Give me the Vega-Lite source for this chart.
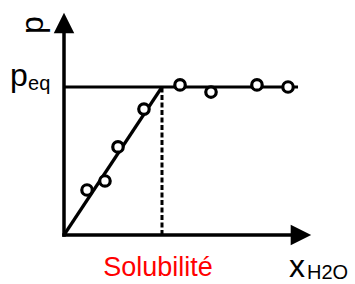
{
  "$schema": "https://vega.github.io/schema/vega-lite/v6.json",
  "width": 355,
  "height": 284,
  "padding": 0,
  "autosize": {"type": "fit", "contains": "padding"},
  "background": "white",
  "config": {"view": {"stroke": null}},
  "datasets": {
    "points": [
      {"x": 0.235, "y": 0.304},
      {"x": 0.418, "y": 0.365},
      {"x": 0.551, "y": 0.595},
      {"x": 0.816, "y": 0.851},
      {"x": 1.184, "y": 1.014},
      {"x": 1.5, "y": 0.966},
      {"x": 1.969, "y": 1.014},
      {"x": 2.286, "y": 1.0}
    ],
    "segments": [
      {"kind": "axis", "x": 0, "y": 0, "x2": 0, "y2": 1.4},
      {"kind": "axis", "x": 0, "y": 0, "x2": 2.36, "y2": 0},
      {"kind": "curve", "x": 0, "y": 1, "x2": 2.388, "y2": 1},
      {"kind": "curve", "x": 0, "y": 0, "x2": 1, "y2": 1},
      {"kind": "dashed", "x": 1, "y": 0, "x2": 1, "y2": 1}
    ],
    "arrows": [
      {"dir": "up", "x": 0, "y": 1.432},
      {"dir": "right", "x": 2.418, "y": 0}
    ],
    "labels": [
      {"kind": "ytitle", "text": "p", "x": -0.316, "y": 1.419},
      {"kind": "big", "text": "p", "x": -0.551, "y": 1.007},
      {"kind": "sub", "text": "eq", "x": -0.367, "y": 0.98},
      {"kind": "big", "text": "x", "x": 2.296, "y": -0.284},
      {"kind": "sub", "text": "H2O", "x": 2.48, "y": -0.297},
      {"kind": "red", "text": "Solubilité", "x": 0.96, "y": -0.277}
    ]
  },
  "encoding": {
    "x": {"field": "x", "type": "quantitative", "axis": null, "scale": {"domain": [-0.65306, 2.96939], "nice": false, "zero": false}},
    "y": {"field": "y", "type": "quantitative", "axis": null, "scale": {"domain": [-0.33108, 1.58784], "nice": false, "zero": false}}
  },
  "layer": [
    {
      "data": {"name": "segments"},
      "transform": [{"filter": "datum.kind === 'axis'"}],
      "mark": {"type": "rule", "color": "black", "strokeWidth": 3.5, "strokeCap": "square"},
      "encoding": {"x2": {"field": "x2"}, "y2": {"field": "y2"}}
    },
    {
      "data": {"name": "segments"},
      "transform": [{"filter": "datum.kind === 'curve'"}],
      "mark": {"type": "rule", "color": "black", "strokeWidth": 3.2, "strokeCap": "butt"},
      "encoding": {"x2": {"field": "x2"}, "y2": {"field": "y2"}}
    },
    {
      "data": {"name": "segments"},
      "transform": [{"filter": "datum.kind === 'dashed'"}],
      "mark": {"type": "rule", "color": "black", "strokeWidth": 3, "strokeDash": [5, 2.5]},
      "encoding": {"x2": {"field": "x2"}, "y2": {"field": "y2"}}
    },
    {
      "data": {"name": "arrows"},
      "transform": [{"filter": "datum.dir === 'up'"}],
      "mark": {"type": "point", "shape": "M0,-1L1,1L-1,1Z", "filled": true, "color": "black", "size": 420, "opacity": 1, "strokeWidth": 0}
    },
    {
      "data": {"name": "arrows"},
      "transform": [{"filter": "datum.dir === 'right'"}],
      "mark": {"type": "point", "shape": "M1,0L-1,-1L-1,1Z", "filled": true, "color": "black", "size": 420, "opacity": 1, "strokeWidth": 0}
    },
    {
      "data": {"name": "points"},
      "mark": {"type": "point", "shape": "circle", "fill": "white", "stroke": "black", "strokeWidth": 3.2, "size": 110, "opacity": 1, "filled": true}
    },
    {
      "data": {"name": "labels"},
      "transform": [{"filter": "datum.kind === 'ytitle'"}],
      "mark": {"type": "text", "font": "Liberation Sans", "fontSize": 32, "angle": 270, "align": "center", "baseline": "middle", "color": "black"},
      "encoding": {"text": {"field": "text"}}
    },
    {
      "data": {"name": "labels"},
      "transform": [{"filter": "datum.kind === 'big'"}],
      "mark": {"type": "text", "font": "Liberation Sans", "fontSize": 32, "align": "left", "baseline": "alphabetic", "color": "black"},
      "encoding": {"text": {"field": "text"}}
    },
    {
      "data": {"name": "labels"},
      "transform": [{"filter": "datum.kind === 'sub'"}],
      "mark": {"type": "text", "font": "Liberation Sans", "fontSize": 20, "align": "left", "baseline": "alphabetic", "color": "black"},
      "encoding": {"text": {"field": "text"}}
    },
    {
      "data": {"name": "labels"},
      "transform": [{"filter": "datum.kind === 'red'"}],
      "mark": {"type": "text", "font": "Liberation Sans", "fontSize": 27, "align": "center", "baseline": "alphabetic", "color": "#ff0000"},
      "encoding": {"text": {"field": "text"}}
    }
  ]
}
